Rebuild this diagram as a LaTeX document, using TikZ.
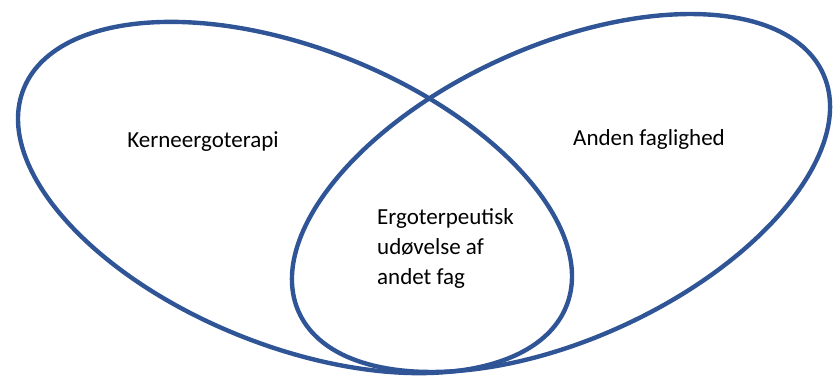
\documentclass[tikz,border=0pt]{standalone}
\usepackage{fontspec}
\setmainfont{Carlito}
\definecolor{venn}{RGB}{47,85,151}
\begin{document}
\begin{tikzpicture}[x=1pt,y=-1pt,
  ring/.style={draw=venn,line width=4.4pt},
  lbl/.style={font=\fontsize{23}{30}\selectfont,text=black,inner sep=0pt}]
\useasboundingbox (0,0) rectangle (833,375);
\draw[ring,rotate around={-21.8:(295,197.5)}] (295,197.5) ellipse [x radius=292.3pt, y radius=148.7pt];
\draw[ring,rotate around={24.5:(561,193)}] (561,193) ellipse [x radius=288pt, y radius=146.5pt];
\node[lbl] (core) at (203,142) {Kerneergoterapi};
\node[lbl] (other) at (649,139) {Anden faglighed};
\node[lbl,align=left,anchor=north west] (mid) at (377,208) {Ergoterpeutisk\\udøvelse af\\andet fag};
\end{tikzpicture}
\end{document}
